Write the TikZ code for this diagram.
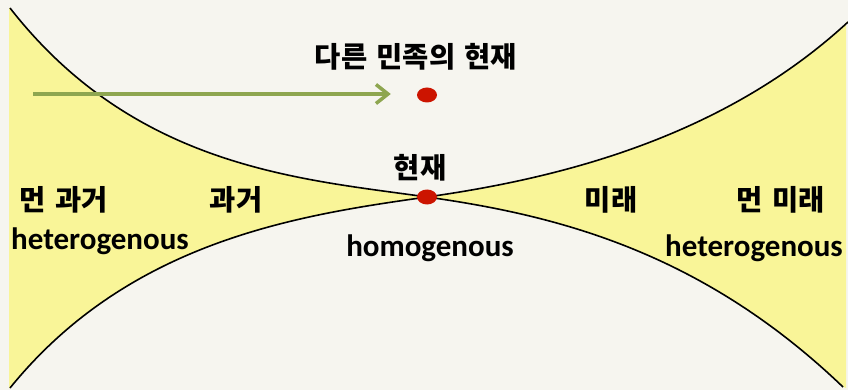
\documentclass[tikz,border=0pt]{standalone}
\usepackage{fontspec}
\setmainfont{Carlito}
\newfontfamily\kr{Noto Sans CJK KR}
\usetikzlibrary{arrows.meta,shapes.geometric,calc}
\definecolor{bg}{RGB}{246,245,239}
\definecolor{yel}{RGB}{249,245,152}
\definecolor{grn}{RGB}{142,166,80}
\definecolor{dotred}{RGB}{204,20,0}
\newcommand{\ksp}{\hspace{0.33em}}
\tikzset{
  krlabel/.style={font=\kr\bfseries\fontsize{28.5}{32}\selectfont, inner sep=0pt},
  enlabel/.style={font=\bfseries\fontsize{31}{35}\selectfont, inner sep=0pt},
  reddot/.style={ellipse, fill=dotred, minimum width=20pt, minimum height=15pt, inner sep=0pt},
  curve/.style={black, line width=1.6pt},
  greenarrow/.style={grn, line width=3.5pt, -{Straight Barb[length=12pt,width=19pt,line width=3.5pt]}}
}
\begin{document}
\begin{tikzpicture}[x=1pt,y=-1pt]
\fill[bg] (0,0) rectangle (848,390);
\useasboundingbox (0,0) rectangle (848,390);
% yellow regions
\fill[yel] (9,8) -- (10,8) .. controls (135,168) and (300,179) .. (427,197)
  .. controls (300,215) and (130,240) .. (10,388) -- (9,388) -- cycle;
\fill[yel] (846,22) -- (848,22) .. controls (720,140) and (554,179) .. (427,197)
  .. controls (554,215) and (700,250) .. (843,387) -- (846,388) -- cycle;
% curves
\draw[curve] (10,8) .. controls (135,168) and (300,179) .. (427,197)
  .. controls (554,215) and (700,250) .. (843,387);
\draw[curve] (10,388) .. controls (130,240) and (300,215) .. (427,197)
  .. controls (554,179) and (720,140) .. (848,22);
% dots
\node[reddot] (now) at (427,197) {};
\node[reddot] (other) at (427,95) {};
% arrow
\coordinate (astart) at (33,94);
\coordinate (aend) at ($(other.west)+(-26,-1)$);
\draw[greenarrow] (astart) -- (aend);
% labels
\node[krlabel] (title) at (416,57) {다른\ksp 민족의\ksp 현재};
\node[krlabel] (present) at (420,168) {현재};
\node[krlabel] (farpast) at (64,200) {먼\ksp 과거};
\node[krlabel] (past) at (236,200) {과거};
\node[krlabel] (future) at (611,200) {미래};
\node[krlabel] (farfuture) at (781,200) {먼\ksp 미래};
\node[enlabel] (hetl) at (100,241) {heterogenous};
\node[enlabel] (homo) at (430,248) {homogenous};
\node[enlabel] (hetr) at (754,248) {heterogenous};
\end{tikzpicture}
\end{document}
